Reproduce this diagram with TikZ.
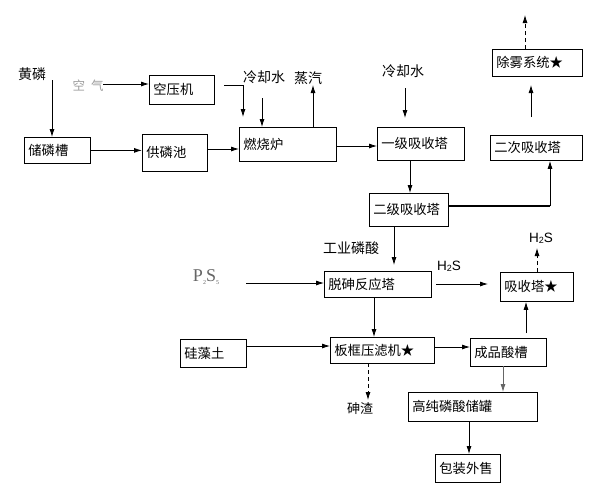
\documentclass[tikz,border=0pt]{standalone}
\usepackage{fontspec}
\setmainfont{Noto Sans CJK SC}
\newfontfamily\serifP{Liberation Serif}
\newfontfamily\sansL{Liberation Sans}
\usetikzlibrary{arrows.meta,calc}
\begin{document}
\begin{tikzpicture}[x=1pt,y=-1pt,
  box/.style={draw, line width=0.8pt, anchor=north west, inner xsep=4pt, inner ysep=0pt,
    align=left, font=\fontsize{13.3}{15}\selectfont},
  lbl/.style={font=\fontsize{14}{16}\selectfont, inner sep=0pt},
  arr/.style={line width=0.8pt, -{Latex[length=8pt,width=5pt]}},
  darr/.style={arr, dash pattern=on 4pt off 3pt},
  thk/.style={line width=2.4pt}]
\useasboundingbox (0,0) rectangle (593,498);
\fill[white] (0,0) rectangle (593,498);

% boxes
\node[box, text width=58pt, minimum height=26pt] (cao) at (24,137) {储磷槽};
\node[box, text width=57pt, minimum height=29pt] (kyj) at (149,75) {空压机};
\node[box, text width=57pt, minimum height=37pt] (glc) at (142,134) {供磷池};
\node[box, text width=89pt, minimum height=34pt] (rsl) at (239,127) {燃烧炉};
\node[box, text width=79pt, minimum height=33pt] (yj) at (377,127) {一级吸收塔};
\node[box, text width=71pt, minimum height=33pt] (ej) at (369,193) {二级吸收塔};
\node[box, text width=84pt, minimum height=25pt] (ec) at (490,135) {二次吸收塔};
\node[box, text width=82pt, minimum height=27pt] (cw) at (492,49) {除雾系统★};
\node[box, text width=99pt, minimum height=26pt] (ts) at (324,271) {脱砷反应塔};
\node[box, text width=65pt, minimum height=29pt] (xs) at (500,272) {吸收塔★};
\node[box, text width=58pt, minimum height=28pt] (gz) at (180,339) {硅藻土};
\node[box, text width=96pt, minimum height=26pt] (bk) at (330,337) {板框压滤机★};
\node[box, text width=68pt, minimum height=28pt] (cp) at (470,338) {成品酸槽};
\node[box, text width=121pt, minimum height=29pt] (gc) at (408,392) {高纯磷酸储罐};
\node[box, text width=57pt, minimum height=28pt] (bz) at (435,454) {包装外售};

% free labels
\node[lbl] (hl) at (32,74) {黄磷};
\node[lbl, text=black!38, font=\fontsize{12.5}{14}\selectfont] (kq) at (88,86) {空\hspace{6pt}气};
\node[lbl] (lq1) at (264,77) {冷却水};
\node[lbl] (zq) at (308,78) {蒸汽};
\node[lbl] (lq2) at (403,71) {冷却水};
\node[lbl] (gy) at (351,248) {工业磷酸};
\node[inner sep=0pt, text=black!60, font=\serifP\fontsize{18}{20}\selectfont] (ps) at (206,277)
  {P\raisebox{-3pt}{\fontsize{6}{7}\selectfont 2}S\raisebox{-3pt}{\fontsize{6}{7}\selectfont 5}};
\node[inner sep=0pt, font=\sansL\fontsize{13.5}{15}\selectfont] (h1) at (449,266) {H\raisebox{-1pt}{\fontsize{9}{10}\selectfont 2}S};
\node[inner sep=0pt, font=\sansL\fontsize{13.5}{15}\selectfont] (h2) at (541,238) {H\raisebox{-1pt}{\fontsize{9}{10}\selectfont 2}S};
\node[lbl, font=\fontsize{13}{15}\selectfont] (sz) at (360,409) {砷渣};

% connectors
\coordinate (c1) at (52,80);
\draw[arr] (c1) -- (c1 |- cao.north);
\coordinate (c2) at (103,84);
\draw[arr] (c2) -- (c2 -| kyj.west);
\coordinate (c3) at (224,85); \coordinate (c3e) at (243,117);
\draw[arr] (c3) -| (c3e);
\coordinate (c4) at (262,98);
\draw[arr] (c4) -- (c4 |- rsl.north);
\draw[arr] (cao.east) -- (cao.east -| glc.west);
\coordinate (c6) at (207,149);
\draw[arr] (c6) -- (c6 -| rsl.west);
\coordinate (c7) at (313,127); \coordinate (c7e) at (313,85);
\draw[arr] (c7) -- (c7e);
\coordinate (c8) at (336,146);
\draw[arr] (c8) -- (c8 -| yj.west);
\coordinate (c9) at (405,88); \coordinate (c9e) at (405,118);
\draw[arr] (c9) -- (c9e);
\coordinate (c10) at (410,160);
\draw[arr] (c10) -- (c10 |- ej.north);
\coordinate (c11) at (448,206); \coordinate (c11e) at (550,206);
\draw[thk] (c11) -- (c11e);
\draw[arr] (c11e) -- (c11e |- ec.south);
\coordinate (c12) at (531,117); \coordinate (c12e) at (531,85);
\draw[arr] (c12) -- (c12e);
\coordinate (c13) at (525,49); \coordinate (c13e) at (525,15);
\draw[darr] (c13) -- (c13e);
\coordinate (c14) at (394,226); \coordinate (c14e) at (394,265);
\draw[arr] (c14) -- (c14e);
\coordinate (c15) at (246,283);
\draw[arr] (c15) -- (c15 -| ts.west);
\coordinate (c16) at (436,284); \coordinate (c16e) at (488,284);
\draw[arr] (c16) -- (c16e);
\coordinate (c17) at (537,272); \coordinate (c17e) at (537,248);
\draw[darr] (c17) -- (c17e);
\coordinate (c18) at (526,333);
\draw[arr] (c18) -- (c18 |- xs.south);
\coordinate (c19) at (374,297);
\draw[arr] (c19) -- (c19 |- bk.north);
\coordinate (c20) at (246,346);
\draw[arr] (c20) -- (c20 -| bk.west);
\coordinate (c21) at (434,347);
\draw[arr] (c21) -- (c21 -| cp.west);
\coordinate (c22) at (368,363); \coordinate (c22e) at (368,400);
\draw[darr] (c22) -- (c22e);
\coordinate (c23) at (503,366);
\draw[arr, black!60] (c23) -- (c23 |- gc.north);
\coordinate (c24) at (469,421);
\draw[arr] (c24) -- (c24 |- bz.north);
\end{tikzpicture}
\end{document}
